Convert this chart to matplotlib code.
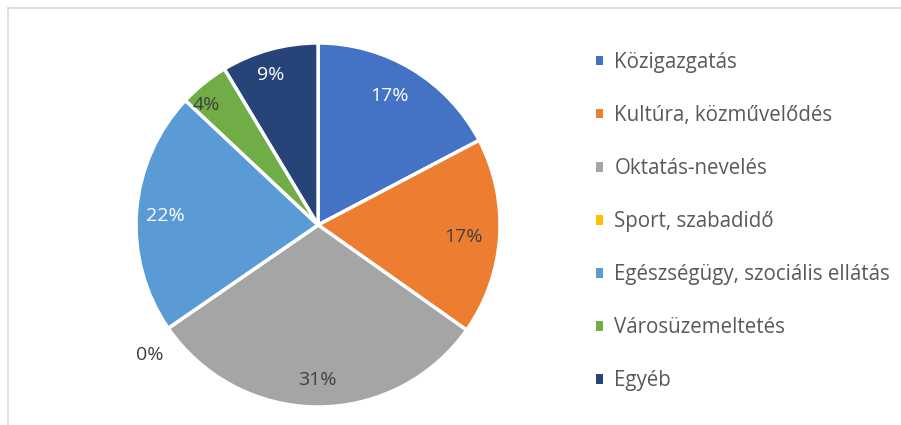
import numpy as np
import matplotlib; matplotlib.use("Agg")
import matplotlib.pyplot as plt
from matplotlib.patches import Patch

categories = ["Közigazgatás", "Kultúra, közművelődés", "Oktatás-nevelés",
              "Sport, szabadidő", "Egészségügy, szociális ellátás",
              "Városüzemeltetés", "Egyéb"]
shares = [17.3, 17.5, 30.6, 0.0, 21.6, 4.4, 8.6]
pct_labels = ["17%", "17%", "31%", "0%", "22%", "4%", "9%"]

COLORS = ["#4472C4", "#ED7D31", "#A5A5A5", "#FFC000", "#5B9BD5", "#70AD47", "#264478"]
TXT_COLORS = ["white", "#404040", "#404040", "#404040", "white", "#404040", "white"]
LABEL_R = [0.81, 0.80, 0.85, 1.17, 0.84, 0.90, 0.865]
LABEL_DA = [2, -1, 0, 3, 1, 4, 2]

plt.rcParams["font.family"] = ["Open Sans", "DejaVu Sans"]

fig = plt.figure(figsize=(9.01, 4.25), dpi=100)
ax = fig.add_axes([0.151, 0.0424, 0.404, 0.8565])
wedges, _ = ax.pie(shares, colors=COLORS, startangle=90, counterclock=False,
                   radius=1.0, wedgeprops=dict(edgecolor="white", linewidth=2.5))
ax.set_xlim(-1, 1); ax.set_ylim(-1, 1)
ax.set_aspect("equal")
ax.axis("off")

for w, lab, c, r, da in zip(wedges, pct_labels, TXT_COLORS, LABEL_R, LABEL_DA):
    mid = np.deg2rad((w.theta1 + w.theta2) / 2 + da)
    ax.text(r * np.cos(mid), r * np.sin(mid), lab, color=c, fontsize=14,
            ha="center", va="center", clip_on=False)

handles = [Patch(facecolor=col, edgecolor="none") for col in COLORS]
leg = fig.legend(handles, categories, loc="upper left", bbox_to_anchor=(0.650, 0.902),
                 frameon=False, fontsize=14.8, labelcolor="#595959",
                 handlelength=0.35, handleheight=0.35, handletextpad=0.55,
                 labelspacing=1.56, borderpad=0)

# outer frame (top and left edges visible)
fig.add_artist(plt.Line2D([8/901, 1], [1 - 8/425] * 2, color="#D9D9D9", lw=1.2,
                          transform=fig.transFigure))
fig.add_artist(plt.Line2D([8/901] * 2, [0, 1 - 8/425], color="#D9D9D9", lw=1.2,
                          transform=fig.transFigure))

fig.savefig("out.png", dpi=100)
